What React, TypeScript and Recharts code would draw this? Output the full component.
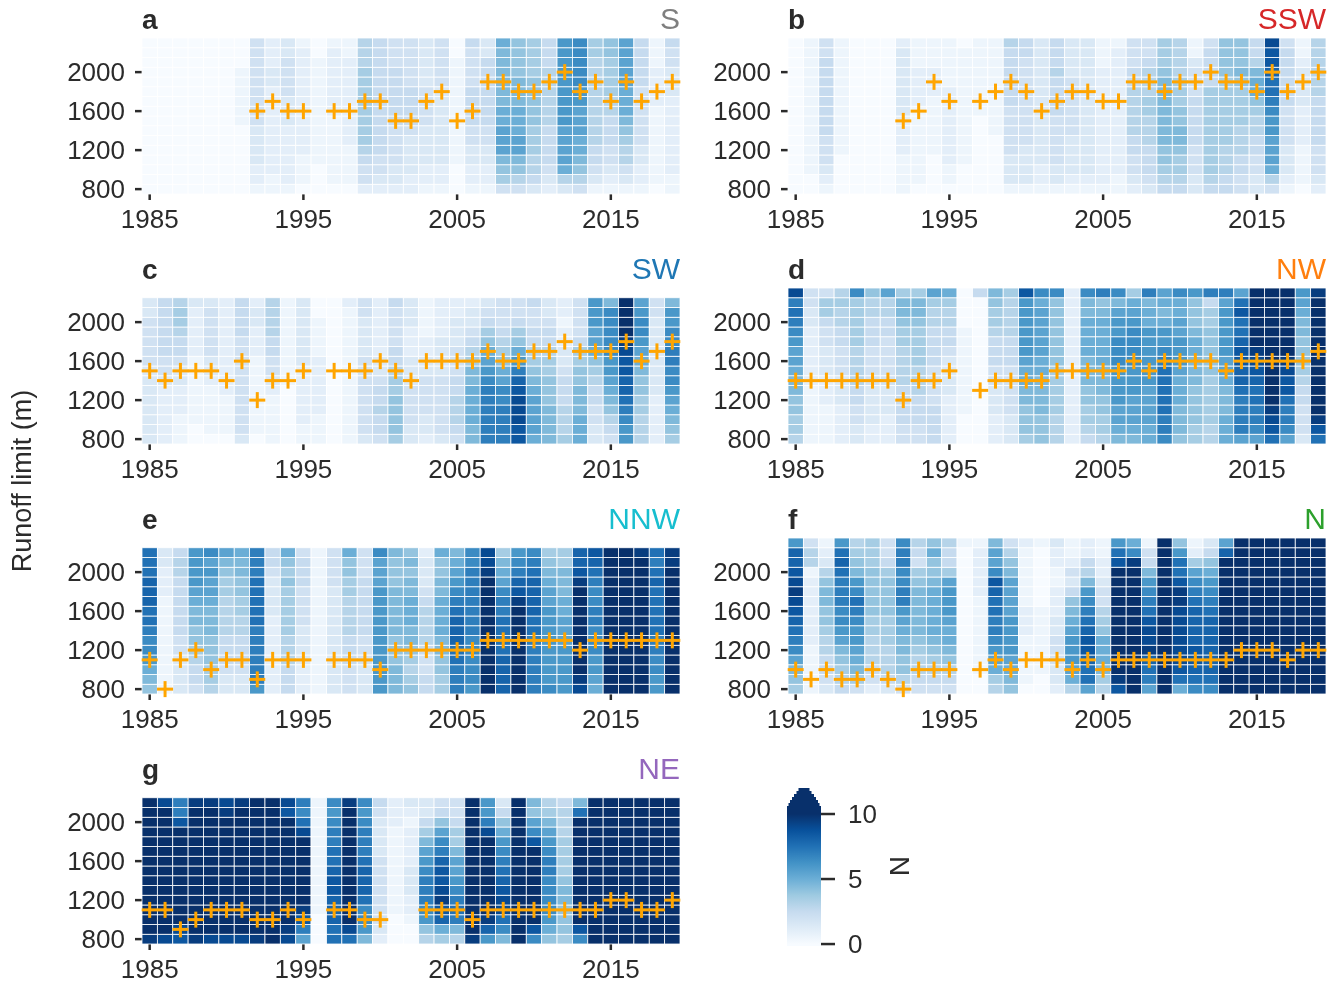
import React from "react";
import { ScatterChart, Scatter, XAxis, YAxis, BarChart, Bar } from "recharts";

// Each string is one year (1985..2019); each character one 100 m row from 800 m upward,
// base-36 digit = N * 2.
const panelA = ["0000000000000000","0000000000000000","0000000000000000","0000000000000000","0000000000000000","0000000000000000","0000000111111000","1223333444444444","1122222222233222","1222222333444433","0111222222222221","0001111111111100","0111111122222221","0111122222222211","2445677777777666","2344555555555555","2334444555555444","2233334555544444","1223333444433333","1223333333344444","0001111111111100","1223344555544445","1223344555555533","4789bbbaa999999a","4689bbaaa9998888","3566777888887777","2345555666666555","36abbbbccccccccc","4689aabbbccddddd","1345566666666677","1234455566777788","13466789aaabbbbb","1223344444455555","0111111112222111","1122222222333445"];
const panelB = ["0000000000000000","0011111111111111","1234445555555544","0000111111111111","0000000000000000","0000000000000000","0000000000000000","1111222233333332","0111111112222111","0000111111222111","0112222222211111","0001111111111110","0000000011111111","0000001111111111","1333444445555556","1333344444444455","1223333333333333","1334444455556555","1233334444443333","1233333333333333","1222222222222111","1122222222222221","2344556666655444","3455566677666544","5678899999998777","5677899887776666","3344455555444311","5677777777755554","5566677777778888","4455666777789888","3344556678aa9655","46abbbccdeffghhi","1233344445555554","0111122223333211","2344455555666666"];
const panelC = ["333333334444433","222222344555555","111222334556776","001111111222223","011111233444443","011112222222222","344444444445555","011111111222332","111112344556666","000000111111111","112222223333333","111222222111100","000000000000000","111111111111112","344444444333344","455655433222222","788887765544445","334444333222333","233444433221111","344444433332222","456665544433322","99aaaa997654332","eeeeeedcba87543","eeeeddba8765444","hhiiihgeca87544","abbbba987655445","999988877655433","766655543322122","aaa999887754444","334455678abbccc","45689abccddddd9","ccdefgghhijkkkk","66677889abcddcb","222223333333344","789abcddeeddcc9"];
const panelD = ["677889 9abbcdefei".replace(" ",""),"1111112222223344","1111222333445774","2222333444556676","3344556666777 77d".replace(" ",""),"2233334444555668","222333444445566b","4455556666778997","4455566677778997","555544445555667b","222223333455667a","0001111111110000","0000000000000005","2223334455567789","3334444455566667","788899aabcccccch","8889999aabbbbbad","666777778888888d","2222222222222222","567788999aaaa99d","677889 99aaaaa98e".replace(" ",""),"9abbccccdddccb9d","9abbbcccddddcba7","aabbbbccccccaa9e","deefffffedcca9ab","8999aaabcccbbaad","778888999aa9888c","667777788888775e","aaa999abbcccccbe","beeeefgghhgffhfb","bdeeffghijkkkkkk","fhijkkkkkkkkkkkk","bdeefhhijkkkkkkk","3444556788899abc","fhjkkkkkkkkkkkkj"];
const panelE = ["89acddeffgggfff","111111111122233","333344555555665","455678899abcccc","677888999abbcbd","33455566667789b","33455566778899a","ceeeeeefffffeee","222222223333455","55566677777878a","222333344445554","111111111111111","333333333334444","44455566667788a","333444555555444","cccccccccccbbbd","999888999998889","8767899aaa99898","554456666543332","778899aaaa9988a","eeeffgggfedcba9","cdddddeeeeeeedd","kkkkkkkkkkkkjii","ggggffffeedba97","kkkkkkkkkjhgedc","eeeeeeffggggfed","dccccccccbba987","cccccbbbaa99977","ijkkkkkkkkkjhgg","abccdddeeddefgh","kkkkkkkkkkkkkkk","kkkkkkkkkkkkkkk","kkkkkkkkkkkkkkj","ccddeefffffgfef","kkkkkkkkkkkkkjj"];
const panelF = ["789bdefghijihggc","1111122222221664","3455667889986321","56789bcddeeefgfc","479abccdefdc9876","2456667788888777","3566677788887544","468899abceeddeed","4566789999987456","456789aaaaa988a8","45689aabcccb7556","0000000000000001","0011111111222221","67abcdeeffghdbb9","89abccccbbbb9864","0111112221111112","0011111110000001","2334443322211223","6abcccba98534211","bffghhgfedc96522","679aaa8764432211","hjkkkkkkkkkkkhfc","kkkkkkkkkkkkkjda","befgjiihfedc9541","kkkkkkkkkkkkkkkk","afhiiiiiijjhffc8","dfghhggggfedb721","dfggggggfedca853","kkkkkkkkkkkkkkgb","kkkkkkkkkkkkkkkk","kkkkkkkkkkkkkkkk","kkkkkkkkkkkkkkkk","kkkkkkkkkkkkkkkk","kkkkkkkkkkkkkkkk","kkkkkkkkkkkkkkkk"];
const panelG = ["jkkkkkkkkkkkkkk","ikkkkkkkkkkkkki","hikkkkkkkkkkhee","jkkkkkkkkkkkkkj","ikkkkkkkkkkkkkj","ikkkkkkkkkkkkji","ikkkkkkkkkkkkkj","jkkkkkkkkkkkkkk","kkkkkkkkkkkkkkk","ijkkkkkkkkkkkhi","behjkkkkkkkifde","000111111111111","ffggghhgffeedcd","fikkkkkkkkkkkkj","9cddfgggfeeedcd","234444444333345","000111111111222","001223332222123","68cdeeedcb97533","7aghjihhgedb854","69efedcbb977544","jkkkkkkkkkkkkkk","cgjkkkkkkkkiecc","9dfiihgfedca853","kkkkkkkkkkkkkkk","dhkkkkkkkkhdb89","8acddddeedcb976","788899877776665","dhkkkkkkkkkkkf9","kkkkkkkkkkkkkkk","kkkkkkkkkkkkkkk","kkkkkkkkkkkkkkk","kkkkkkkkkkkkkkk","kkkkkkkkkkkkkkk","kkkkkkkkkkkkkkk"];

const _ = null;
const limitA = [_,_,_,_,_,_,_,1600,1700,1600,1600,_,1600,1600,1700,1700,1500,1500,1700,1800,1500,1600,1900,1900,1800,1800,1900,2000,1800,1900,1700,1900,1700,1800,1900];
const limitB = [_,_,_,_,_,_,_,1500,1600,1900,1700,_,1700,1800,1900,1800,1600,1700,1800,1800,1700,1700,1900,1900,1800,1900,1900,2000,1900,1900,1800,2000,1800,1900,2000];
const limitC = [1500,1400,1500,1500,1500,1400,1600,1200,1400,1400,1500,_,1500,1500,1500,1600,1500,1400,1600,1600,1600,1600,1700,1600,1600,1700,1700,1800,1700,1700,1700,1800,1600,1700,1800];
const limitD = [1400,1400,1400,1400,1400,1400,1400,1200,1400,1400,1500,_,1300,1400,1400,1400,1400,1500,1500,1500,1500,1500,1600,1500,1600,1600,1600,1600,1500,1600,1600,1600,1600,1600,1700];
const limitE = [1100,800,1100,1200,1000,1100,1100,900,1100,1100,1100,_,1100,1100,1100,1000,1200,1200,1200,1200,1200,1200,1300,1300,1300,1300,1300,1300,1200,1300,1300,1300,1300,1300,1300];
const limitF = [1000,900,1000,900,900,1000,900,800,1000,1000,1000,_,1000,1100,1000,1100,1100,1100,1000,1100,1000,1100,1100,1100,1100,1100,1100,1100,1100,1200,1200,1200,1100,1200,1200];
const limitG = [1100,1100,900,1000,1100,1100,1100,1000,1000,1100,1000,_,1100,1100,1000,1000,_,_,1100,1100,1100,1000,1100,1100,1100,1100,1100,1100,1100,1100,1200,1200,1100,1100,1200];

const xTicks = [1985, 1995, 2005, 2015];
const yTicks = [800, 1200, 1600, 2000];
const barTicks = [0, 5, 10];
const blues = ["#f7fbff", "#deebf7", "#c6dbef", "#9ecae1", "#6baed6", "#4292c6", "#2171b5", "#08519c", "#08306b"];

const PLOT_W = 538;
const PLOT_H = 156;
const INK = "#2b2b2b";
const FONT = "'Liberation Sans', Arial, sans-serif";

function color(v: number) {
  const t = Math.min(Math.max(v / 10, 0), 1) * (blues.length - 1);
  const i = Math.min(Math.floor(t), blues.length - 2);
  const f = t - i;
  const p = (s: string) => [1, 3, 5].map((k) => parseInt(s.slice(k, k + 2), 16));
  const a = p(blues[i]);
  const b = p(blues[i + 1]);
  return `rgb(${a.map((c, k) => Math.round(c + (b[k] - c) * f)).join(",")})`;
}

function toCells(columns: string[]) {
  return columns.flatMap((col, i) =>
    col.split("").map((ch, r) => ({ year: 1985 + i, elev: 800 + r * 100, n: parseInt(ch, 36) / 2 }))
  );
}
function toLimits(values: (number | null)[]) {
  return values.flatMap((elev, i) => (elev === null ? [] : [{ year: 1985 + i, elev }]));
}

const CellShape = (props: any) => {
  const w = PLOT_W / 35;
  const h = PLOT_H / 16;
  return (
    <rect x={props.cx - w / 2} y={props.cy - h / 2} width={w} height={h}
      fill={color(props.payload.n)} stroke="#ffffff" strokeWidth={0.8} />
  );
};
const PlusShape = (props: any) => (
  <g stroke="#ffa500" strokeWidth={3}>
    <line x1={props.cx - 8} x2={props.cx + 8} y1={props.cy} y2={props.cy} />
    <line x1={props.cx} x2={props.cx} y1={props.cy - 8} y2={props.cy + 8} />
  </g>
);

const tickStyle = { fontSize: 26, fill: INK, fontFamily: FONT };
const tickLine = { stroke: INK, strokeWidth: 2.5 };

function Panel({ left, top, columns, limits }: { left: number; top: number; columns: string[]; limits: (number | null)[] }) {
  return (
    <div style={{ position: "absolute", left: left - 100, top: top - 10 }}>
      <ScatterChart width={100 + PLOT_W + 12} height={10 + PLOT_H + 46} margin={{ top: 10, right: 12, bottom: 0, left: 0 }}>
        <XAxis dataKey="year" type="number" domain={[1984.5, 2019.5]} ticks={xTicks} interval={0} height={46}
          tick={tickStyle} tickLine={tickLine} tickSize={6} tickMargin={10} axisLine={false} />
        <YAxis dataKey="elev" type="number" domain={[750, 2350]} ticks={yTicks} interval={0} width={100}
          tick={tickStyle} tickLine={tickLine} tickSize={7} tickMargin={10} axisLine={false} />
        <Scatter data={toCells(columns)} shape={CellShape} isAnimationActive={false} />
        <Scatter data={toLimits(limits)} shape={PlusShape} isAnimationActive={false} />
      </ScatterChart>
    </div>
  );
}

const ColorBarShape = (props: any) => {
  const { x, y, width, height } = props;
  const bottom = y + height;
  const steps = [[0, 11.5], [3, 9.5], [6, 7], [9, 5], [12, 3], [15, 1.5], [18, 0]];
  let d = `M${x},${bottom}L${x},${y + 22}`;
  steps.slice().reverse().forEach(([rise, inset]) => {
    const top = y + rise;
    d += `L${x + inset},${y + (rise === 18 ? 22 : rise + 3)}L${x + inset},${top}`;
  });
  steps.forEach(([rise, inset]) => {
    d += `L${x + width - inset},${y + rise}L${x + width - inset},${y + (rise === 18 ? 22 : rise + 3)}`;
  });
  d += `L${x + width},${bottom}Z`;
  return <path d={d} fill="url(#nScale)" />;
};

const colorBarData = [{ name: "N", range: [-0.15, 12] }];

function ColorBar() {
  const levels = [0, 1.25, 2.5, 3.75, 5, 6.25, 7.5, 8.75, 10];
  return (
    <div style={{ position: "absolute", left: 787, top: 787.7 }}>
      <BarChart width={120} height={172} data={colorBarData} barCategoryGap={0} margin={{ top: 0, right: 0, bottom: 14, left: 0 }}>
        <defs>
          <linearGradient id="nScale" x1="0" y1="1" x2="0" y2="0">
            {levels.map((v, i) => (
              <stop key={v} offset={(v + 0.15) / 12.15} stopColor={blues[i]} />
            ))}
          </linearGradient>
        </defs>
        <XAxis dataKey="name" hide />
        <YAxis orientation="right" type="number" domain={[-0.15, 12]} ticks={barTicks} interval={0} width={86}
          tick={tickStyle} tickLine={tickLine} tickSize={14} tickMargin={13} axisLine={false} allowDataOverflow />
        <Bar dataKey="range" shape={ColorBarShape} isAnimationActive={false} />
      </BarChart>
    </div>
  );
}

const panels = [
  { letter: "a", name: "S", color: "#7f7f7f", left: 142, top: 38, columns: panelA, limits: limitA },
  { letter: "b", name: "SSW", color: "#d62728", left: 788, top: 38, columns: panelB, limits: limitB },
  { letter: "c", name: "SW", color: "#1f77b4", left: 142, top: 288, columns: panelC, limits: limitC },
  { letter: "d", name: "NW", color: "#ff7f0e", left: 788, top: 288, columns: panelD, limits: limitD },
  { letter: "e", name: "NNW", color: "#17becf", left: 142, top: 538, columns: panelE, limits: limitE },
  { letter: "f", name: "N", color: "#2ca02c", left: 788, top: 538, columns: panelF, limits: limitF },
  { letter: "g", name: "NE", color: "#9467bd", left: 142, top: 788, columns: panelG, limits: limitG },
];

export default function App() {
  return (
    <div style={{ position: "absolute", left: 0, top: 0, width: 1343, height: 988, background: "#fff", overflow: "hidden", fontFamily: FONT, filter: "blur(0.45px)" }}>
      {panels.map((p) => (
        <React.Fragment key={p.letter}>
          <Panel left={p.left} top={p.top} columns={p.columns} limits={p.limits} />
          <div style={{ position: "absolute", left: p.left, top: p.top - 35, fontSize: 28, fontWeight: 700, color: INK, lineHeight: "34px" }}>{p.letter}</div>
          <div style={{ position: "absolute", left: p.left + PLOT_W - 120, width: 120, textAlign: "right", top: p.top - 37, fontSize: 30, color: p.color, lineHeight: "36px" }}>{p.name}</div>
        </React.Fragment>
      ))}
      <ColorBar />
      <div style={{ position: "absolute", left: 899 - 20, top: 866 - 20, width: 40, height: 40, lineHeight: "40px", textAlign: "center", fontSize: 28, color: INK, transform: "rotate(90deg)" }}>N</div>
      <div style={{ position: "absolute", left: 22 - 120, top: 481 - 16, width: 240, height: 32, lineHeight: "32px", textAlign: "center", fontSize: 27, color: INK, transform: "rotate(-90deg)" }}>Runoff limit (m)</div>
    </div>
  );
}
